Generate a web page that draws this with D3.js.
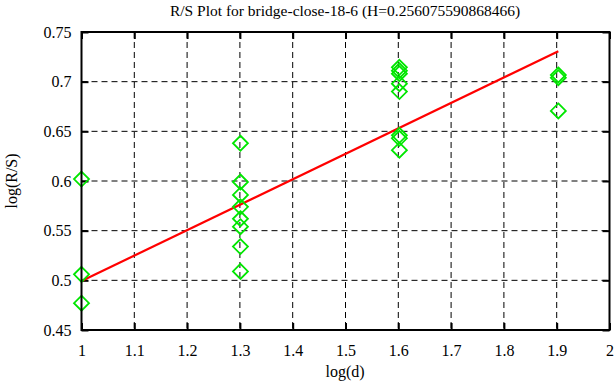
<!DOCTYPE html>
<html><head><meta charset="utf-8">
<script src="https://cdn.jsdelivr.net/npm/d3@7"></script>
<style>body{margin:0;background:#fff}svg{display:block}text{font-family:"Liberation Serif","Times New Roman",serif;fill:#000}</style>
</head><body><svg id="c" width="616" height="387"></svg>
<script>
const title = "R/S Plot for bridge-close-18-6 (H=0.256075590868466)";
const xLabel = "log(d)";
const yLabel = "log(R/S)";
const xTicks = [1, 1.1, 1.2, 1.3, 1.4, 1.5, 1.6, 1.7, 1.8, 1.9, 2];
const yTicks = [0.45, 0.5, 0.55, 0.6, 0.65, 0.7, 0.75];
const pointX = [1, 1, 1,
  1.30103, 1.30103, 1.30103, 1.30103, 1.30103, 1.30103, 1.30103, 1.30103,
  1.60206, 1.60206, 1.60206, 1.60206, 1.60206, 1.60206, 1.60206, 1.60206,
  1.90309, 1.90309, 1.90309];
const pointY = [0.602, 0.506, 0.477,
  0.638, 0.599, 0.586, 0.574, 0.562, 0.554, 0.534, 0.509,
  0.7145, 0.711, 0.708, 0.698, 0.690, 0.646, 0.643, 0.631,
  0.7067, 0.704, 0.6705];
const H = 0.256075590868466;
const intercept = 0.4993;
const fitX = [1, 1.90309];

const svg = d3.select("#c");
const L = 81.5, R = 609.5, T = 32, B = 330;
const x = d3.scaleLinear().domain([1, 2]).range([L, R]);
const y = d3.scaleLinear().domain([0.45, 0.75]).range([B, T]);

// grid
const g = svg.append("g");
xTicks.slice(1, -1).forEach(v => g.append("line").attr("x1", x(v)).attr("x2", x(v)).attr("y1", T).attr("y2", B)
  .attr("stroke", "#000").attr("stroke-width", 1).attr("stroke-dasharray", "6,4"));
yTicks.slice(1, -1).forEach(v => g.append("line").attr("x1", L).attr("x2", R).attr("y1", y(v)).attr("y2", y(v))
  .attr("stroke", "#000").attr("stroke-width", 1).attr("stroke-dasharray", "6,4"));

// axes
const fmt = d => String(+d.toFixed(2));
const ax = svg.append("g").attr("transform", `translate(0,${B})`)
  .call(d3.axisBottom(x).tickValues(xTicks).tickFormat(fmt).tickSizeInner(-7).tickSizeOuter(0).tickPadding(15));
const axT = svg.append("g").attr("transform", `translate(0,${T})`)
  .call(d3.axisTop(x).tickValues(xTicks).tickFormat("").tickSizeInner(-7).tickSizeOuter(0));
const ay = svg.append("g").attr("transform", `translate(${L},0)`)
  .call(d3.axisLeft(y).tickValues(yTicks).tickFormat(fmt).tickSizeInner(-7).tickSizeOuter(0).tickPadding(10));
const ayR = svg.append("g").attr("transform", `translate(${R},0)`)
  .call(d3.axisRight(y).tickValues(yTicks).tickFormat("").tickSizeInner(-7).tickSizeOuter(0));
[ax, axT, ay, ayR].forEach(a => {
  a.select(".domain").remove();
  a.selectAll("line").attr("stroke", "#000").attr("stroke-width", 2);
  a.selectAll("text").style("font-size", "16px").style("font-family", "Liberation Serif, serif").attr("fill", "#000");
});

// fit line
svg.append("line").attr("x1", x(fitX[0])).attr("y1", y(intercept + H * (fitX[0] - 1)))
  .attr("x2", x(fitX[1])).attr("y2", y(intercept + H * (fitX[1] - 1)))
  .attr("stroke", "#f00").attr("stroke-width", 2.2);

// points
const s = 7.5;
svg.append("g").selectAll("path").data(pointX.map((v, i) => [v, pointY[i]])).join("path")
  .attr("d", d => `M${x(d[0])},${y(d[1]) - s}L${x(d[0]) + s},${y(d[1])}L${x(d[0])},${y(d[1]) + s}L${x(d[0]) - s},${y(d[1])}Z`)
  .attr("fill", "none").attr("stroke", "#00e600").attr("stroke-width", 1.8);

// border
svg.append("rect").attr("x", L).attr("y", T).attr("width", R - L).attr("height", B - T)
  .attr("fill", "none").attr("stroke", "#000").attr("stroke-width", 2);

svg.append("text").attr("x", 345).attr("y", 16).attr("text-anchor", "middle").style("font-size", "15.5px").text(title);
svg.append("text").attr("x", 345).attr("y", 377).attr("text-anchor", "middle").style("font-size", "16px").text(xLabel);
svg.append("text").attr("transform", "translate(17,181) rotate(-90)").attr("text-anchor", "middle").style("font-size", "16px").text(yLabel);
</script></body></html>
